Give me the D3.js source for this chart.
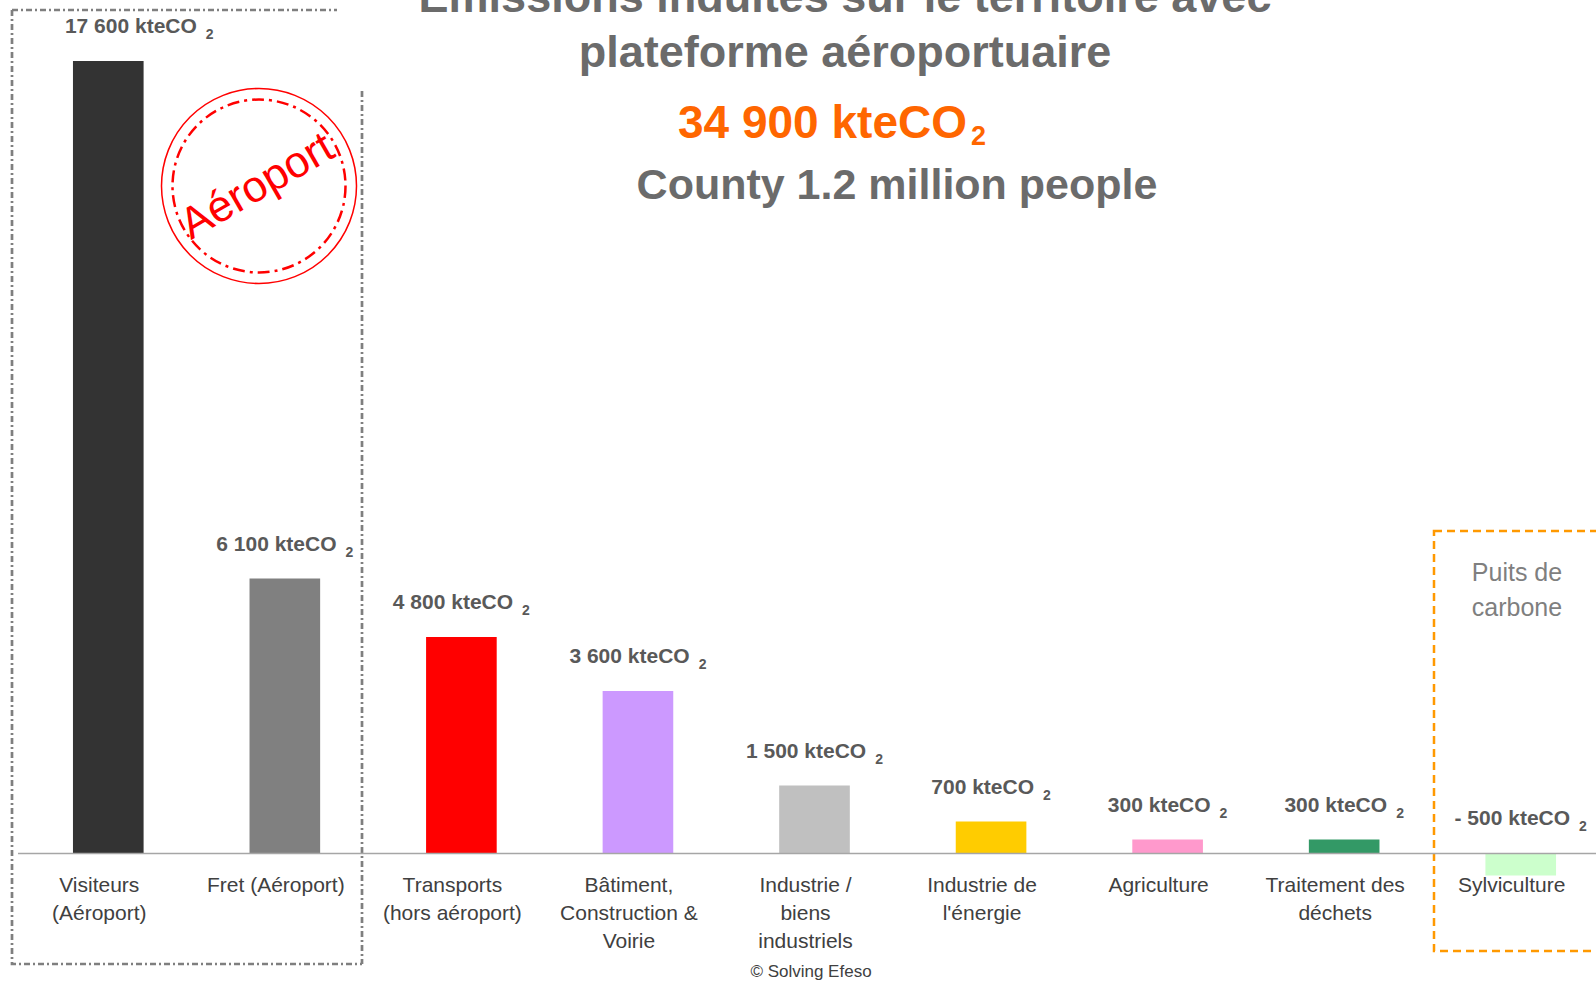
<!DOCTYPE html>
<html>
<head>
<meta charset="utf-8">
<script src="https://cdn.jsdelivr.net/npm/d3@7"></script>
<style>
  body { margin: 0; background: #fff; }
  svg { display: block; font-family: "Liberation Sans", Arial, sans-serif; }
</style>
</head>
<body>
<div id="chart"></div>
<script>
// chart data
const categories = [
  "Visiteurs\n(Aéroport)",
  "Fret (Aéroport)",
  "Transports\n(hors aéroport)",
  "Bâtiment,\nConstruction &\nVoirie",
  "Industrie /\nbiens\nindustriels",
  "Industrie de\nl'énergie",
  "Agriculture",
  "Traitement des\ndéchets",
  "Sylviculture",
];
const values = [17600, 6100, 4800, 3600, 1500, 700, 300, 300, -500];
const barColors = [
  "#333333", "#808080", "#ff0000", "#cc99ff", "#c0c0c0",
  "#ffcc00", "#ff99cc", "#339966", "#ccffcc",
];
const titleLines = ["Emissions induites sur le territoire avec", "plateforme aéroportuaire"];
const totalValue = 34900;
const subtitle = "County 1.2 million people";
const unit = "kteCO";

function drawChart(id) {
  const w = 1596;
  const h = 981;

  const svg = d3
    .select(`#${id}`)
    .append("svg")
    .attr("width", w)
    .attr("height", h);

  const fmt = d3.formatLocale({ decimal: ",", thousands: " ", grouping: [3], currency: ["", ""] }).format(",d");
  const fmtVal = (v) => (v < 0 ? "- " + fmt(-v) : fmt(v));

  // scales
  const x = d3.scaleBand().domain(categories).range([20, 1609]).paddingInner(0.6).paddingOuter(0.3);
  const y = d3.scaleLinear().domain([0, 17600]).range([853, 61]);

  // airport frame (dash-dot), partly hidden behind the title
  const frame = svg.append("g")
    .attr("fill", "none")
    .attr("stroke", "#7f7f7f")
    .attr("stroke-width", 2.7)
    .attr("stroke-dasharray", "6,3,2,3");
  frame.append("path").attr("d", "M12,10 H337");
  frame.append("path").attr("d", "M12,10 V964 H362");
  frame.append("path").attr("d", "M362,91 V964");

  // carbon sink frame
  svg.append("rect")
    .attr("x", 1434).attr("y", 531)
    .attr("width", 200).attr("height", 420)
    .attr("fill", "none")
    .attr("stroke", "#ff9900")
    .attr("stroke-width", 2.5)
    .attr("stroke-dasharray", "8,5");

  svg.append("text")
    .attr("x", 1517).attr("y", 581)
    .attr("text-anchor", "middle")
    .attr("font-size", 25)
    .attr("fill", "#7f7f7f")
    .selectAll("tspan")
    .data(["Puits de", "carbone"])
    .join("tspan")
    .attr("x", 1517)
    .attr("dy", (d, i) => (i ? 35 : 0))
    .text((d) => d);

  // bars
  svg.append("g")
    .selectAll("rect")
    .data(values)
    .join("rect")
    .attr("x", (d, i) => x(categories[i]))
    .attr("width", x.bandwidth())
    .attr("y", (d) => y(Math.max(d, 0)))
    .attr("height", (d) => Math.abs(y(d) - y(0)))
    .attr("fill", (d, i) => barColors[i]);

  // x axis
  const axis = svg.append("g")
    .attr("transform", `translate(0,${y(0)})`)
    .call(d3.axisBottom(x).tickSize(0).tickSizeOuter(0).tickFormat(""));
  axis.select(".domain").attr("stroke", "#a6a6a6").attr("stroke-width", 1.5).attr("d", "M18,0.5H1609");

  axis.selectAll(".tick text").remove();
  axis.selectAll(".tick")
    .append("text")
    .attr("fill", "#404040")
    .attr("font-size", 21)
    .attr("text-anchor", "middle")
    .attr("y", 39)
    .each(function (d) {
      d3.select(this)
        .selectAll("tspan")
        .data(d.split("\n"))
        .join("tspan")
        .attr("x", -9)
        .attr("dy", (t, i) => (i ? 28 : 0))
        .text((t) => t);
    });

  // value labels
  const labels = svg.append("g")
    .selectAll("text")
    .data(values)
    .join("text")
    .attr("x", (d, i) => x(categories[i]) + x.bandwidth() / 2 + (i === 0 ? 31 : 0))
    .attr("y", (d) => y(Math.max(d, 0)) - 28)
    .attr("text-anchor", "middle")
    .attr("font-weight", "bold")
    .attr("font-size", 21)
    .attr("fill", "#595959");
  labels.append("tspan").text((d) => `${fmtVal(d)} ${unit}`);
  labels.append("tspan")
    .attr("dx", 9)
    .attr("dy", 6)
    .attr("font-size", 14)
    .text("2");

  // stamp
  const stamp = svg.append("g").attr("transform", "translate(259,186)");
  stamp.append("circle")
    .attr("r", 97.5)
    .attr("fill", "none")
    .attr("stroke", "#ff0000")
    .attr("stroke-width", 1.5);
  stamp.append("circle")
    .attr("r", 86.5)
    .attr("fill", "none")
    .attr("stroke", "#ff0000")
    .attr("stroke-width", 2.5)
    .attr("stroke-dasharray", "12,5,3,5");
  stamp.append("text")
    .attr("transform", "translate(5,12) rotate(-30)")
    .attr("text-anchor", "middle")
    .attr("font-size", 44)
    .attr("fill", "#ff0000")
    .text("Aéroport");

  // titles
  const title = svg.append("text")
    .attr("text-anchor", "middle")
    .attr("font-weight", "bold")
    .attr("font-size", 45)
    .attr("fill", "#6b6b6b");
  title.selectAll("tspan")
    .data(titleLines)
    .join("tspan")
    .attr("x", 845)
    .attr("y", (d, i) => 12 + i * 55)
    .text((d) => d);

  const total = svg.append("text")
    .attr("x", 832).attr("y", 138)
    .attr("text-anchor", "middle")
    .attr("font-weight", "bold")
    .attr("font-size", 46)
    .attr("fill", "#ff6600");
  total.append("tspan").text(`${fmt(totalValue)} ${unit}`);
  total.append("tspan").attr("dx", 4).attr("dy", 7).attr("font-size", 27).text("2");

  svg.append("text")
    .attr("x", 897).attr("y", 199)
    .attr("text-anchor", "middle")
    .attr("font-weight", "bold")
    .attr("font-size", 43)
    .attr("fill", "#6b6b6b")
    .text(subtitle);

  // footer
  svg.append("text")
    .attr("x", 811).attr("y", 977)
    .attr("text-anchor", "middle")
    .attr("font-size", 17)
    .attr("fill", "#404040")
    .text("© Solving Efeso");
}

document.addEventListener("DOMContentLoaded", function () {
  drawChart("chart");
});
</script>
</body>
</html>
